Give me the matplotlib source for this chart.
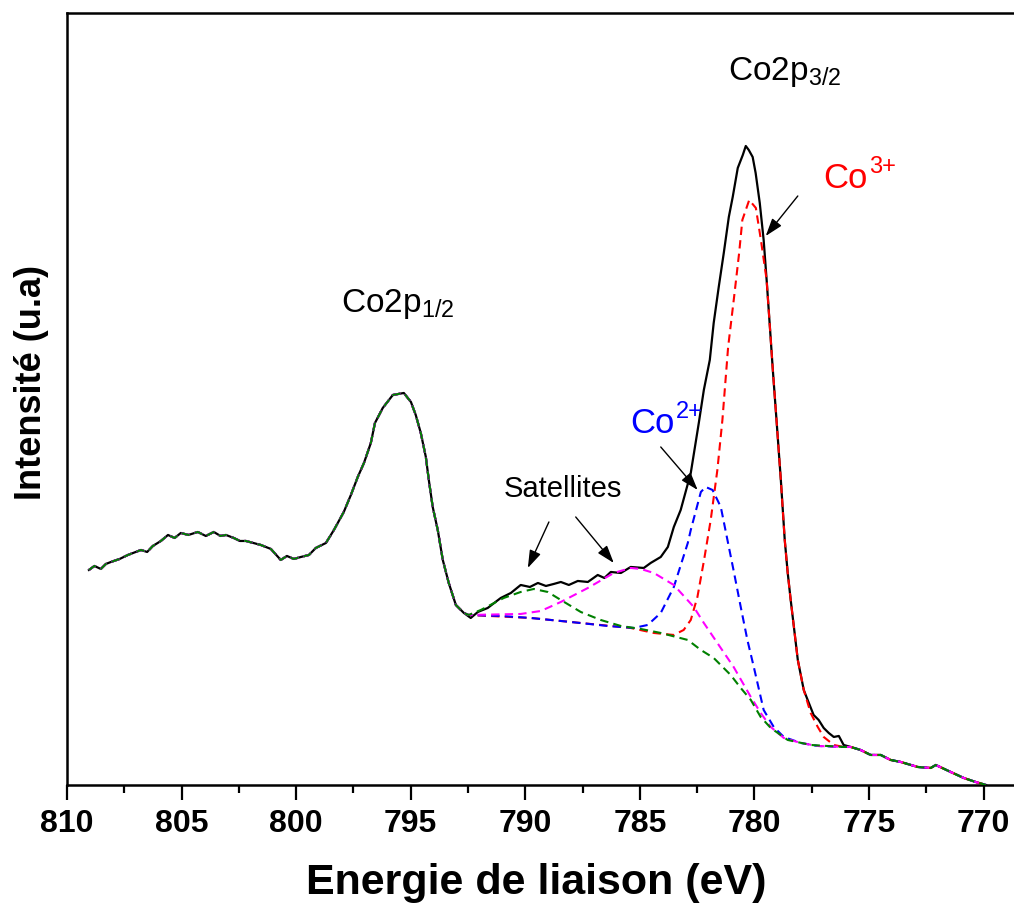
import numpy as np
import matplotlib
matplotlib.use('Agg')
import matplotlib.pyplot as plt
from matplotlib.ticker import MultipleLocator

plt.rcParams['font.family'] = ['Liberation Sans', 'DejaVu Sans']
plt.rcParams['mathtext.fontset'] = 'custom'
plt.rcParams['mathtext.rm'] = 'Liberation Sans'
plt.rcParams['mathtext.default'] = 'regular'

# ---- measured spectrum (binding energy eV, intensity a.u.) ----
energy = [809.04, 808.80, 808.52, 808.30, 808.08, 807.70, 807.34, 806.77, 806.50, 806.25,
          805.90, 805.59, 805.30, 805.03, 804.70, 804.29, 803.94, 803.59, 803.30, 803.06,
          802.72, 802.45, 802.19, 801.54, 801.10, 800.67, 800.40, 800.10, 799.79,
          799.44, 799.14, 798.70, 798.35, 797.92, 797.61, 797.31, 797.04, 796.74, 796.56,
          796.22, 795.78, 795.30, 794.99, 794.78, 794.56, 794.34, 794.21, 794.04, 793.82,
          793.60, 793.34, 793.03, 792.68, 792.38, 792.07, 791.64, 791.30, 791.07, 790.63, 790.20,
          789.80, 789.45, 789.10, 788.76, 788.45, 788.10, 787.71, 787.27, 786.84, 786.55, 786.27,
          785.83, 785.40, 784.83, 784.53, 784.09, 783.78, 783.52, 783.22, 782.78, 782.43,
          782.21, 781.95, 781.78, 781.56, 781.34, 781.12, 780.95, 780.73, 780.51, 780.38,
          780.25, 780.08, 779.95, 779.77, 779.60, 779.47, 779.34, 779.20, 779.03, 778.85,
          778.68, 778.55, 778.42, 778.11, 777.85, 777.68, 777.42, 777.20, 776.98, 776.76,
          776.54, 776.32, 776.11, 775.80, 775.37, 774.93, 774.49, 774.06, 773.62, 772.88,
          772.31, 772.09, 771.44, 770.87, 770.35, 769.90]
intensity = [215, 219, 216, 221, 223, 226, 230, 235, 233, 239,
             244, 250, 247, 252, 250, 253, 249, 253, 249, 250,
             247, 244, 244, 240, 236, 225, 229, 226, 228,
             230, 237, 242, 255, 273, 290, 308, 322, 342, 362,
             377, 390, 392, 383, 370, 352, 328, 305, 278, 255,
             225, 202, 180, 172, 167, 173, 177, 183, 187, 192, 200,
             198, 202, 199, 201, 203, 200, 204, 203, 210, 207, 213,
             212, 218, 217, 222, 228, 238, 258, 275, 312, 362,
             395, 425, 462, 498, 532, 568, 588, 617, 630, 639,
             635, 628, 612, 582, 545, 505, 462, 415, 362, 305,
             245, 212, 185, 125, 95, 85, 70, 65, 57, 52,
             48, 49, 40, 38, 35, 30, 30, 25, 23, 18,
             17, 20, 13, 7, 3, 0]

# ---- fitted components (background + peak) ----
co3_e = [792.47, 789.76, 788.02, 785.40, 784.39, 783.52, 783.09, 782.78, 782.49, 782.20,
         781.91, 781.62, 781.40, 781.15, 780.89, 780.67, 780.53, 780.23, 779.94, 779.72,
         779.47, 779.34, 779.20, 779.03, 778.85, 778.68, 778.55, 778.42, 778.11, 777.85,
         777.55, 777.24, 776.98, 776.54, 776.11]
co3_i = [170, 167, 163, 157, 152, 150, 155, 165, 188, 225,
         265, 315, 365, 438, 488, 532, 565, 585, 577, 545,
         505, 462, 415, 362, 305, 245, 212, 185, 125, 95,
         72, 58, 48, 40, 38]

co2_e = [792.47, 791.07, 789.76, 788.02, 786.40, 785.27, 784.66, 784.09, 783.52, 782.91,
         782.78, 782.34, 782.13, 781.83, 781.47, 781.18, 780.89, 780.60, 780.31, 780.03,
         779.60, 779.16, 778.72, 777.98, 777.24, 776.11]
co2_i = [170, 169, 167, 163, 159, 157, 160, 172, 198, 242,
         255, 293, 298, 295, 278, 245, 212, 178, 145, 118,
         75, 58, 48, 42, 39, 38]

sat1_e = [792.47, 790.20, 789.32, 788.45, 787.27, 786.14, 785.40, 784.96, 784.39, 783.52,
          782.65, 782.21, 781.62, 780.91, 780.16, 779.73, 779.29, 778.72, 777.98, 777.24,
          776.11]
sat1_i = [170, 171, 174, 183, 197, 212, 217, 216, 212, 200,
          178, 162, 142, 118, 88, 72, 58, 47, 42, 39,
          38]

sat2_e = [792.47, 791.94, 790.94, 790.20, 789.63, 789.02, 788.45, 787.58, 786.71, 785.83,
          784.96, 784.09, 782.91, 782.34, 781.78, 781.04, 780.60, 780.16, 779.73, 779.29,
          778.55, 777.55, 776.11]
sat2_i = [170, 175, 187, 193, 196, 193, 185, 173, 165, 159,
          156, 152, 145, 135, 127, 110, 97, 85, 68, 57,
          45, 40, 38]

E = np.array(energy)
I = np.array(intensity)


def full_curve(fe, fi):
    fe = np.array(fe)
    fi = np.array(fi)
    left = E > fe[0]
    right = E < fe[-1]
    return (np.concatenate([E[left], fe, E[right]]),
            np.concatenate([I[left], fi, I[right]]))


fig = plt.figure(figsize=(10.14, 9.08), dpi=100)
ax = fig.add_axes([0.066, 0.1355, 0.938, 0.8502])

ax.plot(E, I, color='black', lw=1.6, zorder=2)
for fe, fi, col in [(co3_e, co3_i, '#FF0000'), (co2_e, co2_i, '#0000FF'),
                    (sat1_e, sat1_i, '#FF00FF'), (sat2_e, sat2_i, '#008000')]:
    xe, yi = full_curve(fe, fi)
    ax.plot(xe, yi, color=col, lw=1.5, dashes=(4, 2.5), zorder=3)

ax.set_xlim(810, 768.5)
ax.set_ylim(0, 772)
ax.xaxis.set_major_locator(MultipleLocator(5))
ax.xaxis.set_minor_locator(MultipleLocator(2.5))
ax.set_yticks([])
ax.tick_params(axis='x', which='major', direction='out', length=11, width=1.6,
               labelsize=23, pad=6)
ax.tick_params(axis='x', which='minor', direction='out', length=6, width=1.6)
for lab in ax.get_xticklabels():
    lab.set_fontweight('bold')
for sp in ax.spines.values():
    sp.set_linewidth(1.8)

# labels
ax.text(781.17, 705, 'Co2p$_{3/2}$', fontsize=24, ha='left', va='baseline')
ax.text(798.05, 473, 'Co2p$_{1/2}$', fontsize=24, ha='left', va='baseline')
for (x, y, col) in [(776.98, 597, '#FF0000'), (785.40, 352, '#0000FF')]:
    ax.text(x, y, 'Co', fontsize=25, color=col, ha='left', va='baseline')
sup = [('3+', 776.98, 597, '#FF0000'), ('2+', 785.40, 352, '#0000FF')]
for s, x, y, col in sup:
    ax.annotate(s, xy=(x, y), xytext=(32.5, 11), textcoords='offset points',
                fontsize=17, color=col, ha='left', va='baseline')
ax.text(790.94, 288, 'Satellites', fontsize=21, ha='left', va='baseline')

arrow = dict(arrowstyle='-|>,head_length=0.6,head_width=0.2', color='black',
             lw=1.0, mutation_scale=18, shrinkA=0, shrinkB=0)
for (x0, y0), (x1, y1) in [((778.11, 589), (779.51, 549)),
                           ((784.09, 338), (782.48, 295)),
                           ((788.97, 263), (789.89, 217)),
                           ((787.80, 268), (786.14, 222))]:
    ax.annotate('', xy=(x1, y1), xytext=(x0, y0), arrowprops=arrow)

fig.text(0.529, 0.0275, 'Energie de liaison (eV)', fontsize=31, fontweight='bold',
         ha='center', va='center')
fig.text(0.031, 0.579, 'Intensité (u.a)', fontsize=26, fontweight='bold',
         ha='center', va='center', rotation=90)

fig.savefig('out.png', dpi=100)
